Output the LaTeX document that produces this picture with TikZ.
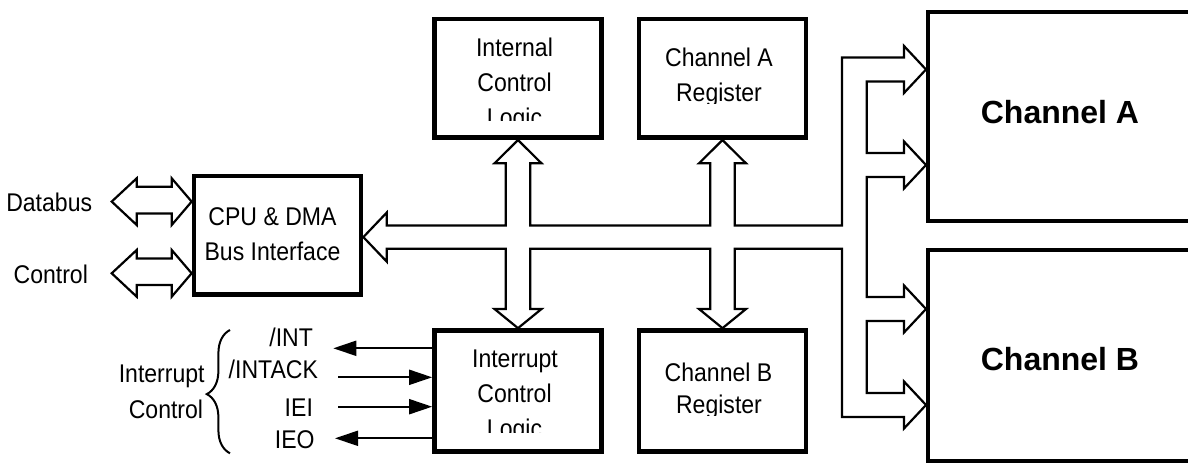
\documentclass[tikz,border=0pt]{standalone}
\usepackage{fontspec}
\setmainfont{Liberation Sans}[FakeStretch=0.9]
\newfontfamily\chfont{Liberation Sans}
\usetikzlibrary{arrows.meta,decorations.pathreplacing,calc}
\begin{document}
\begin{tikzpicture}[x=0.5pt,y=-0.5pt,
  blk/.style={draw, line width=2.35pt, inner sep=0pt, minimum width=83.5pt},
  txt/.style={inner sep=0pt, anchor=base, font=\fontsize{12.8}{15}\selectfont},
  lbl/.style={inner sep=0pt, font=\fontsize{12.8}{15}\selectfont},
  bus/.style={draw, line width=1.1pt, line join=miter},
  chb/.style={line width=2pt},
  sig/.style={line width=1pt, -{Triangle[length=11.5pt,width=7.5pt]}},
  big/.style={inner sep=0pt, anchor=base, font={\chfont\bfseries\fontsize{16}{19}\selectfont}}
]
\useasboundingbox (0,0) rectangle (1188,465);

% blocks
\node[blk, minimum height=59.25pt] (cpu) at (277.5,235.25) {};
\node[blk, minimum height=59.35pt] (icl) at (518,78.35) {};
\node[blk, minimum height=59.35pt] (car) at (722.5,78.35) {};
\node[blk, minimum height=60.6pt] (intcl) at (518,391.1) {};
\node[blk, minimum height=60.6pt] (cbr) at (722.5,391.1) {};

% channel boxes (cut by the right edge)
\draw[chb] (1192,12) -- (927.7,12) -- (927.7,221.3) -- (1192,221.3);
\draw[chb] (1192,250.3) -- (927.7,250.3) -- (927.7,460.7) -- (1192,460.7);
\node[big] (chAt) at (1060,123.3) {Channel A};
\node[big] (chBt) at (1060,370.5) {Channel B};

% texts in blocks
\node[txt] (cpu1) at (272.5,225) {CPU \& DMA};
\node[txt] (cpu2) at (272.5,260) {Bus Interface};
\begin{scope}
  \clip (436,21) rectangle (599,121);
  \node[txt] (icl1) at (514.5,56.5) {Internal};
  \node[txt] (icl2) at (514.5,91.5) {Control};
  \node[txt] (icl3) at (514.5,126.5) {Logic};
\end{scope}
\begin{scope}
  \clip (641,21) rectangle (803,103.3);
  \node[txt] (car1) at (719,66.7) {Channel A};
  \node[txt] (car2) at (719,101.5) {Register};
\end{scope}
\begin{scope}
  \clip (436,333) rectangle (599,432);
  \node[txt] (int1) at (515,367.3) {Interrupt};
  \node[txt] (int2) at (514.5,402.5) {Control};
  \node[txt] (int3) at (514.5,437.7) {Logic};
\end{scope}
\begin{scope}
  \clip (641,333) rectangle (803,415);
  \node[txt] (cbr1) at (718.5,381.7) {Channel B};
  \node[txt] (cbr2) at (719,413.7) {Register};
\end{scope}

% left labels
\node[txt] (db) at (49.2,211.7) {Databus};
\node[txt] (ctl) at (50.8,283.3) {Control};

% hollow double arrows to the CPU block
\coordinate (d0) at (0,201.6);
\coordinate (c0) at (0,273.3);
\draw[bus] (111.7,201.6) -- (136.7,178.3) -- (136.7,186.8) -- (171.7,186.8) -- (171.7,178.3)
  -- (cpu.west |- d0) -- (171.7,225) -- (171.7,213.4) -- (136.7,213.4) -- (136.7,225) -- cycle;
\draw[bus] (111.7,273.3) -- (136.7,250) -- (136.7,258.4) -- (171.7,258.4) -- (171.7,250)
  -- (cpu.west |- c0) -- (171.7,296.7) -- (171.7,285) -- (136.7,285) -- (136.7,296.7) -- cycle;

% internal bus
\coordinate (bl) at (0,237.1);
\coordinate (a1) at (926,69.5);
\coordinate (a2) at (926,165);
\coordinate (b1) at (926,309);
\coordinate (b2) at (926,405);
\draw[bus] (cpu.east |- bl) -- (386.7,212.6) -- (386.7,225.5)
  -- (505.8,225.5) -- (505.8,163.3) -- (494.5,163.3) -- (icl.south) -- (541.5,163.3) -- (530.2,163.3) -- (530.2,225.5)
  -- (710.3,225.5) -- (710.3,163.3) -- (699,163.3) -- (car.south) -- (746,163.3) -- (734.7,163.3) -- (734.7,225.5)
  -- (842,225.5) -- (842,57.5) -- (904,57.5) -- (904,46) -- (a1) -- (904,93) -- (904,81.5)
  -- (866.7,81.5) -- (866.7,153) -- (904,153) -- (904,141.5) -- (a2) -- (904,188.5) -- (904,177)
  -- (866.7,177) -- (866.7,297) -- (904,297) -- (904,285.5) -- (b1) -- (904,332.5) -- (904,321)
  -- (866.7,321) -- (866.7,393) -- (904,393) -- (904,381.5) -- (b2) -- (904,428.5) -- (904,417)
  -- (842,417) -- (842,248.7)
  -- (734.7,248.7) -- (734.7,309) -- (746,309) -- (cbr.north) -- (699,309) -- (710.3,309) -- (710.3,248.7)
  -- (530.2,248.7) -- (530.2,309) -- (541.5,309) -- (intcl.north) -- (494.5,309) -- (505.8,309) -- (505.8,248.7)
  -- (386.7,248.7) -- (386.7,261.6) -- cycle;

% interrupt signals
\node[lbl, anchor=base east] (sINT) at (313.3,346.7) {/INT};
\node[lbl, anchor=base east] (sACK) at (318.3,378.3) {/INTACK};
\node[lbl, anchor=base east] (sIEI) at (313.3,416) {IEI};
\node[lbl, anchor=base east] (sIEO) at (315,448.3) {IEO};
\node[lbl, anchor=base east] (ic1) at (205,382.5) {Interrupt};
\node[lbl, anchor=base east] (ic2) at (203.5,418.3) {Control};
\draw[line width=1pt, decorate, decoration={brace, amplitude=11.6pt, aspect=0.48}] (230,453.3) -- (230,330);

\coordinate (eINT) at (333.3,348.3);
\coordinate (eACK) at (338.3,377.3);
\coordinate (eIEI) at (338.3,406.7);
\coordinate (eIEO) at (335,438.3);
\draw[sig] (intcl.west |- eINT) -- (eINT);
\draw[sig] (eACK) -- (intcl.west |- eACK);
\draw[sig] (eIEI) -- (intcl.west |- eIEI);
\draw[sig] (intcl.west |- eIEO) -- (eIEO);
\end{tikzpicture}
\end{document}
